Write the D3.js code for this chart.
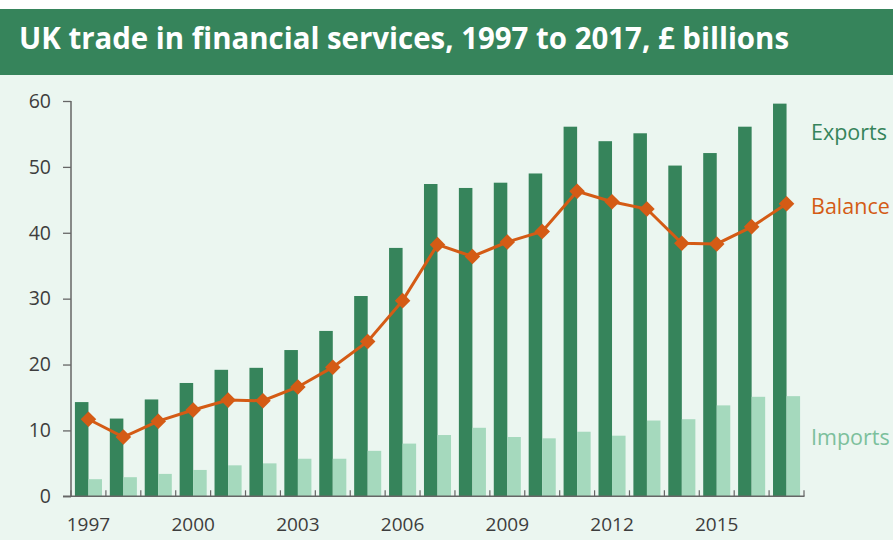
<!DOCTYPE html>
<html>
<head>
<meta charset="utf-8">
<script src="https://cdn.jsdelivr.net/npm/d3@7"></script>
<style>
  html, body { margin: 0; padding: 0; background: #ffffff; }
  svg { display: block; font-family: "Open Sans", "Noto Sans", sans-serif; }
</style>
</head>
<body>
<svg id="chart" width="893" height="540"></svg>
<script>
// UK trade in financial services, £ billions
const years = d3.range(1997, 2018);
const exportsValues = [14.3, 11.8, 14.7, 17.2, 19.2, 19.5, 22.2, 25.1, 30.4, 37.7, 47.4,
                       46.8, 47.6, 49.0, 56.1, 53.9, 55.1, 50.2, 52.1, 56.1, 59.6];
const importsValues = [2.6, 2.9, 3.4, 4.0, 4.7, 5.0, 5.7, 5.7, 6.9, 8.0, 9.3,
                       10.4, 9.0, 8.8, 9.8, 9.2, 11.5, 11.7, 13.8, 15.1, 15.2];
const balanceValues = [11.7, 9.0, 11.4, 13.1, 14.6, 14.5, 16.6, 19.6, 23.5, 29.7, 38.2,
                       36.4, 38.6, 40.2, 46.3, 44.7, 43.6, 38.4, 38.3, 40.9, 44.4];
const yTicks = [0, 10, 20, 30, 40, 50, 60];
const xTickYears = [1997, 2000, 2003, 2006, 2009, 2012, 2015];
const seriesNames = ["Exports", "Imports"];

const colors = {
  Exports: "#36845b",
  Imports: "#a5d9bd",
  Balance: "#d45b15",
  band: "#36845b",
  bg: "#ebf6f0",
  axis: "#666666",
  text: "#3d3d3d"
};

const svg = d3.select("#chart");

// Header band and background
svg.append("rect").attr("x", 0).attr("y", 0).attr("width", 893).attr("height", 540).attr("fill", colors.bg);
svg.append("rect").attr("x", 0).attr("y", 0).attr("width", 893).attr("height", 9).attr("fill", "#ffffff");
svg.append("rect").attr("x", 0).attr("y", 9).attr("width", 893).attr("height", 66).attr("fill", colors.band);
svg.append("text")
  .attr("x", 19).attr("y", 49)
  .attr("fill", "#ffffff")
  .attr("font-size", 30)
  .attr("font-weight", 700)
  .attr("textLength", 770)
  .attr("lengthAdjust", "spacingAndGlyphs")
  .text("UK trade in financial services, 1997 to 2017, £ billions");

// Scales
const x = d3.scaleBand().domain(years).range([71, 804]).paddingInner(0).paddingOuter(0);
const xs = d3.scaleBand().domain(seriesNames).range([0, x.bandwidth()]).paddingInner(0).paddingOuter(0.29);
const y = d3.scaleLinear().domain([0, 60]).range([496.3, 101]);

// Bars
const rows = years.map((yr, i) => ({ year: yr, Exports: exportsValues[i], Imports: importsValues[i], Balance: balanceValues[i] }));

const groups = svg.append("g").selectAll("g")
  .data(rows).join("g")
  .attr("transform", d => `translate(${x(d.year)},0)`);

groups.selectAll("rect")
  .data(d => seriesNames.map(k => ({ key: k, value: d[k] })))
  .join("rect")
  .attr("x", d => xs(d.key))
  .attr("y", d => y(d.value))
  .attr("width", xs.bandwidth())
  .attr("height", d => y(0) - y(d.value))
  .attr("fill", d => colors[d.key]);

// Axes
const yAxis = svg.append("g")
  .attr("transform", "translate(71,0)")
  .call(d3.axisLeft(y).tickValues(yTicks).tickSize(8).tickPadding(12).tickFormat(d3.format("d")));
yAxis.select(".domain").attr("stroke", colors.axis).attr("stroke-width", 1.5).attr("d", `M0,${y(60)}V${y(0)}`);
yAxis.selectAll(".tick line").attr("stroke", colors.axis).attr("stroke-width", 1.3);
yAxis.selectAll(".tick text").attr("fill", colors.text).attr("font-size", 19.5).attr("font-family", "Open Sans");

const xAxisG = svg.append("g").attr("transform", `translate(0,${y(0)})`);
xAxisG.append("line")
  .attr("x1", 63).attr("x2", 804.5)
  .attr("stroke", colors.axis).attr("stroke-width", 1.5);
xAxisG.selectAll("line.bt")
  .data(years.concat([2018]))
  .join("line").attr("class", "bt")
  .attr("x1", d => d === 2018 ? x.range()[1] : x(d))
  .attr("x2", d => d === 2018 ? x.range()[1] : x(d))
  .attr("y1", 0).attr("y2", -6)
  .attr("stroke", colors.axis).attr("stroke-width", 1.2);

const xAxis = svg.append("g")
  .attr("transform", `translate(0,${y(0)})`)
  .call(d3.axisBottom(x).tickValues(xTickYears).tickSize(0).tickPadding(21).tickFormat(d3.format("d")));
xAxis.select(".domain").remove();
xAxis.selectAll(".tick text").attr("fill", colors.text).attr("font-size", 19).attr("font-family", "Open Sans");

// Balance line with diamond markers
const line = d3.line()
  .x(d => x(d.year) + x.bandwidth() / 2)
  .y(d => y(d.Balance));
svg.append("path")
  .datum(rows)
  .attr("fill", "none")
  .attr("stroke", colors.Balance)
  .attr("stroke-width", 3)
  .attr("d", line);

svg.append("g").selectAll("path")
  .data(rows).join("path")
  .attr("d", d3.symbol().type(d3.symbolSquare).size(121))
  .attr("transform", d => `translate(${x(d.year) + x.bandwidth() / 2},${y(d.Balance)}) rotate(45)`)
  .attr("fill", colors.Balance);

// Series labels, placed beside the last bars
const labels = [
  { text: "Exports", value: 55.2, color: colors.Exports },
  { text: "Balance", value: 44.0, color: colors.Balance },
  { text: "Imports", value: 9.0, color: "#7cc09c" }
];
svg.append("g").selectAll("text")
  .data(labels).join("text")
  .attr("x", 811)
  .attr("y", d => y(d.value))
  .attr("dy", "0.35em")
  .attr("fill", d => d.color)
  .attr("font-size", 21.5)
  .text(d => d.text);
</script>
</body>
</html>
